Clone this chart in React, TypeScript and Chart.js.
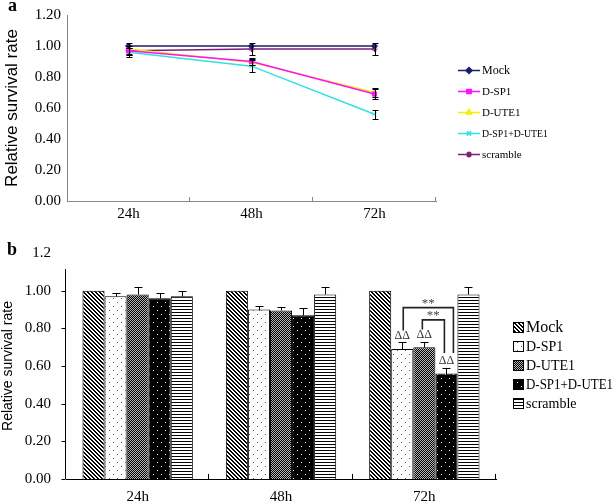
import React, { useEffect, useRef } from "react";
import { Chart, registerables } from "chart.js";
import { drawPoint } from "chart.js/helpers";

Chart.register(...registerables);

// ---------- data ----------
const timePoints = ["24h", "48h", "72h"];
const groupNames = ["Mock", "D-SP1", "D-UTE1", "D-SP1+D-UTE1", "scramble"];

const mockRate = [1.0, 1.0, 1.0];
const dsp1Rate = [0.97, 0.9, 0.69];
const dute1Rate = [0.98, 0.895, 0.7];
const comboRate = [0.96, 0.87, 0.56];
const scrambleRate = [0.97, 0.98, 0.98];

const mockErr = [0, 0, 0];
const dsp1Err = [0.02, 0.02, 0.035];
const dute1Err = [0.04, 0.02, 0.03];
const comboErr = [0.03, 0.04, 0.03];
const scrambleErr = [0.03, 0.04, 0.04];

const topTickLabels = ["0.00", "0.20", "0.40", "0.60", "0.80", "1.00", "1.20"];
const bottomTickLabels = ["0.00", "0.20", "0.40", "0.60", "0.80", "1.00", "1.2"];
const bottomAxisTop = 1.115;

// significance marks on panel b (time index, group index)
const deltaMarks = [
  { time: 2, group: 1, text: "ΔΔ" },
  { time: 2, group: 2, text: "ΔΔ" },
  { time: 2, group: 3, text: "ΔΔ" },
];
const starBrackets = [
  { time: 2, from: 1, to: 3, level: 0.91, text: "**" },
  { time: 2, from: 2, to: 3, level: 0.845, text: "**" },
];

// ---------- styles ----------
const rates = [mockRate, dsp1Rate, dute1Rate, comboRate, scrambleRate];
const errs = [mockErr, dsp1Err, dute1Err, comboErr, scrambleErr];
const lineColors = ["#1c1c6e", "#ff10ff", "#f4f000", "#33e0e0", "#7a207a"];
const pointStyles = ["rectRot", "rect", "triangle", "crossRot", "star"];
const patternKinds = ["diag", "lightdots", "checker", "darkdots", "hlines"];
const SERIF = "'Liberation Serif', 'DejaVu Serif', serif";
const SANS = "'Liberation Sans', Arial, sans-serif";

function makePattern(kind: string): CanvasPattern {
  const c = document.createElement("canvas");
  const size = kind === "hlines" ? 3 : kind === "diag" || kind === "checker" ? 4 : 8;
  c.width = size;
  c.height = size;
  const g = c.getContext("2d")!;
  g.fillStyle = kind === "darkdots" ? "#000" : "#fff";
  g.fillRect(0, 0, size, size);
  if (kind === "diag") {
    g.fillStyle = "#000";
    for (let y = 0; y < 4; y++)
      for (let x = 0; x < 4; x++) if ((x - y + 8) % 4 < 2) g.fillRect(x, y, 1, 1);
  } else if (kind === "lightdots") {
    g.fillStyle = "#555";
    g.fillRect(1, 1, 1, 1);
    g.fillRect(5, 5, 1, 1);
  } else if (kind === "checker") {
    g.fillStyle = "#b8b8b8";
    g.fillRect(0, 0, 4, 4);
    g.fillStyle = "#000";
    for (let y = 0; y < 4; y++)
      for (let x = 0; x < 4; x++) if ((x + y) % 2 === 0) g.fillRect(x, y, 1, 1);
  } else if (kind === "darkdots") {
    g.fillStyle = "#fff";
    g.fillRect(1, 1, 1, 1);
    g.fillRect(5, 5, 1, 1);
  } else if (kind === "hlines") {
    g.fillStyle = "#000";
    g.fillRect(0, 0, 3, 1);
  }
  return g.createPattern(c, "repeat")!;
}

function innerTicks(chart: any, color: string, len: number) {
  const xs = chart.scales.x;
  const ctx = chart.ctx;
  const n = chart.data.labels.length;
  const bottom = chart.chartArea.bottom;
  ctx.save();
  ctx.strokeStyle = color;
  ctx.lineWidth = 1;
  for (let i = 1; i <= n; i++) {
    const px = Math.round(xs.left + (i * (xs.right - xs.left)) / n) - 0.5;
    ctx.beginPath();
    ctx.moveTo(px, bottom);
    ctx.lineTo(px, bottom - len);
    ctx.stroke();
  }
  ctx.restore();
}

// ---------- panel a plugin ----------
const panelAPlugin = {
  id: "panelA",
  afterDatasetsDraw(chart: any) {
    const ctx = chart.ctx;
    const ys = chart.scales.y;
    ctx.save();
    ctx.strokeStyle = "#000";
    ctx.lineWidth = 1;
    chart.data.datasets.forEach((ds: any, i: number) => {
      const meta = chart.getDatasetMeta(i);
      ds.data.forEach((v: number, j: number) => {
        const e = ds.errors[j];
        if (!e) return;
        const x = Math.round(meta.data[j].x) + 0.5;
        const y1 = Math.round(ys.getPixelForValue(v + e)) + 0.5;
        const y2 = Math.round(ys.getPixelForValue(v - e)) + 0.5;
        ctx.beginPath();
        ctx.moveTo(x, y1);
        ctx.lineTo(x, y2);
        ctx.moveTo(x - 3, y1);
        ctx.lineTo(x + 3, y1);
        ctx.moveTo(x - 3, y2);
        ctx.lineTo(x + 3, y2);
        ctx.stroke();
      });
    });
    ctx.restore();
  },
  afterDraw(chart: any) {
    const ctx = chart.ctx;
    innerTicks(chart, "#888", 4);
    ctx.save();
    // panel letter
    ctx.fillStyle = "#000";
    ctx.font = `bold 18px ${SERIF}`;
    ctx.textBaseline = "alphabetic";
    ctx.textAlign = "left";
    ctx.fillText("a", 8, 11);
    // legend
    const x0 = 458;
    chart.data.datasets.forEach((ds: any, i: number) => {
      const y = 70 + i * 21;
      ctx.strokeStyle = ds.borderColor;
      ctx.lineWidth = 1.5;
      ctx.beginPath();
      ctx.moveTo(x0, y + 0.5);
      ctx.lineTo(x0 + 22, y + 0.5);
      ctx.stroke();
      ctx.fillStyle = ds.backgroundColor;
      drawPoint(ctx, { pointStyle: ds.pointStyle, radius: 3, rotation: 0, borderWidth: 1 }, x0 + 11, y + 0.5);
      ctx.fillStyle = "#000";
      ctx.font = `${i === 0 ? 12 : 11}px ${SERIF}`;
      ctx.textBaseline = "middle";
      ctx.fillText(ds.label, x0 + 24, y + 1, 66);
    });
    ctx.restore();
  },
};

// ---------- panel b plugin ----------
const panelBPlugin = {
  id: "panelB",
  afterDatasetsDraw(chart: any) {
    const ctx = chart.ctx;
    const ys = chart.scales.y;
    const capOf = (g: number, t: number) => {
      const ds = chart.data.datasets[g];
      return ys.getPixelForValue(ds.data[t] + ds.errors[t]);
    };
    ctx.save();
    ctx.strokeStyle = "#000";
    ctx.lineWidth = 1;
    chart.data.datasets.forEach((ds: any, i: number) => {
      const meta = chart.getDatasetMeta(i);
      ds.data.forEach((v: number, j: number) => {
        const e = ds.errors[j];
        if (!e) return;
        const x = Math.round(meta.data[j].x) + 0.5;
        const yTop = Math.round(ys.getPixelForValue(v)) + 0.5;
        const yCap = Math.round(ys.getPixelForValue(v + e)) + 0.5;
        ctx.beginPath();
        ctx.moveTo(x, yTop);
        ctx.lineTo(x, yCap);
        ctx.moveTo(x - 4, yCap);
        ctx.lineTo(x + 4, yCap);
        ctx.stroke();
      });
    });
    // delta marks
    ctx.fillStyle = "#333";
    ctx.font = `12px ${SERIF}`;
    ctx.textAlign = "center";
    ctx.textBaseline = "bottom";
    deltaMarks.forEach((m) => {
      const bar = chart.getDatasetMeta(m.group).data[m.time];
      ctx.fillText(m.text, bar.x, capOf(m.group, m.time) - 1);
    });
    // brackets
    ctx.strokeStyle = "#222";
    ctx.lineWidth = 1.6;
    starBrackets.forEach((b, k) => {
      const L = chart.getDatasetMeta(b.from).data[b.time];
      const R = chart.getDatasetMeta(b.to).data[b.time];
      const lx = L.x + (k === 0 ? 1 : -2);
      const rx = R.x + (k === 0 ? 7 : -2);
      const ty = ys.getPixelForValue(b.level);
      ctx.beginPath();
      ctx.moveTo(lx, capOf(b.from, b.time) - 12);
      ctx.lineTo(lx, ty);
      ctx.lineTo(rx, ty);
      ctx.lineTo(rx, capOf(b.to, b.time) - 15);
      ctx.stroke();
      ctx.fillStyle = "#444";
      ctx.font = `13px ${SERIF}`;
      ctx.fillText(b.text, (lx + rx) / 2, ty + 2);
    });
    ctx.restore();
  },
  afterDraw(chart: any) {
    const ctx = chart.ctx;
    const ys = chart.scales.y;
    innerTicks(chart, "#000", 5);
    ctx.save();
    // y axis line (starts below the top label) with outward ticks
    const ax = Math.round(chart.chartArea.left) - 0.5;
    ctx.strokeStyle = "#000";
    ctx.lineWidth = 1;
    ctx.beginPath();
    ctx.moveTo(ax, Math.round(ys.getPixelForValue(bottomAxisTop)));
    ctx.lineTo(ax, chart.chartArea.bottom);
    ys.ticks.forEach((t: any) => {
      if (t.value > bottomAxisTop) return;
      const py = Math.round(ys.getPixelForValue(t.value)) + 0.5;
      ctx.moveTo(ax - 4, py);
      ctx.lineTo(ax, py);
    });
    ctx.stroke();
    ctx.fillStyle = "#000";
    ctx.font = `bold 18px ${SERIF}`;
    ctx.textBaseline = "alphabetic";
    ctx.textAlign = "left";
    ctx.fillText("b", 7, 30);
    // legend
    chart.data.datasets.forEach((ds: any, i: number) => {
      const y = 102 + i * 19;
      ctx.fillStyle = ds.backgroundColor;
      ctx.fillRect(513, y - 5, 11, 11);
      ctx.strokeStyle = "#000";
      ctx.lineWidth = 1;
      ctx.strokeRect(513.5, y - 4.5, 10, 10);
      ctx.fillStyle = "#000";
      ctx.font = `${i === 0 ? 16 : 14}px ${SERIF}`;
      ctx.textBaseline = "middle";
      ctx.fillText(ds.label, 526, y + 1, 87);
    });
    ctx.restore();
  },
};

function PanelA() {
  const ref = useRef<HTMLCanvasElement>(null);
  useEffect(() => {
    const chart = new Chart(ref.current!, {
      type: "line",
      data: {
        labels: timePoints,
        datasets: groupNames.map((name, i) => ({
          label: name,
          data: rates[i],
          errors: errs[i],
          borderColor: lineColors[i],
          backgroundColor: lineColors[i],
          pointBorderColor: lineColors[i],
          pointBackgroundColor: lineColors[i],
          pointStyle: pointStyles[i],
          pointRadius: 3,
          pointBorderWidth: 1,
          borderWidth: 1.5,
          tension: 0,
        })) as any,
      },
      options: {
        animation: false,
        responsive: false,
        maintainAspectRatio: false,
        layout: { padding: { left: 0, top: 13, right: 178, bottom: 0 } },
        plugins: { legend: { display: false }, tooltip: { enabled: false } },
        scales: {
          x: {
            type: "category",
            offset: true,
            grid: { display: false, drawTicks: false },
            border: { color: "#888", width: 1 },
            ticks: { color: "#000", font: { family: SERIF, size: 15 }, padding: 4 },
            afterFit: (s: any) => {
              s.height = 24;
            },
          },
          y: {
            min: 0,
            max: 1.2,
            grid: { display: false, drawTicks: false },
            border: { color: "#888", width: 1 },
            ticks: {
              stepSize: 0.2,
              color: "#000",
              font: { family: SERIF, size: 15 },
              padding: 6,
              callback: (_v: any, idx: number) => topTickLabels[idx],
            },
            title: {
              display: true,
              text: "Relative survival rate",
              color: "#000",
              font: { family: SANS, size: 17 },
              padding: { top: 2, bottom: 0 },
            },
            afterFit: (s: any) => {
              s.width = 67;
            },
          },
        },
      } as any,
      plugins: [panelAPlugin],
    });
    return () => chart.destroy();
  }, []);
  return <canvas ref={ref} width={614} height={225} style={{ position: "absolute", left: 0, top: 0 }} />;
}

function PanelB() {
  const ref = useRef<HTMLCanvasElement>(null);
  useEffect(() => {
    const patterns = patternKinds.map(makePattern);
    const chart = new Chart(ref.current!, {
      type: "bar",
      data: {
        labels: timePoints,
        datasets: groupNames.map((name, i) => ({
          label: name,
          data: rates[i],
          errors: errs[i],
          backgroundColor: patterns[i],
          borderColor: "#000",
          borderWidth: 1,
          categoryPercentage: 0.77,
          barPercentage: 1.0,
        })) as any,
      },
      options: {
        animation: false,
        responsive: false,
        maintainAspectRatio: false,
        layout: { padding: { left: 0, top: 28, right: 118, bottom: 0 } },
        plugins: { legend: { display: false }, tooltip: { enabled: false } },
        scales: {
          x: {
            type: "category",
            offset: true,
            grid: { display: false, drawTicks: false },
            border: { color: "#000", width: 1 },
            ticks: { color: "#000", font: { family: SERIF, size: 15 }, padding: 9 },
            afterFit: (s: any) => {
              s.height = 25;
            },
          },
          y: {
            min: 0,
            max: 1.2,
            grid: { display: false, drawTicks: false },
            border: { display: false },
            ticks: {
              stepSize: 0.2,
              color: "#000",
              font: { family: SERIF, size: 15 },
              padding: 15,
              callback: (_v: any, idx: number) => bottomTickLabels[idx],
            },
            title: {
              display: true,
              text: "Relative survival rate",
              color: "#000",
              font: { family: SANS, size: 14 },
              padding: { top: 0, bottom: 0 },
            },
            afterFit: (s: any) => {
              s.width = 66;
            },
          },
        },
      } as any,
      plugins: [panelBPlugin],
    });
    return () => chart.destroy();
  }, []);
  return <canvas ref={ref} width={614} height={279} style={{ position: "absolute", left: 0, top: 225 }} />;
}

export default function App() {
  return (
    <div style={{ position: "fixed", left: 0, top: 0, width: 614, height: 504, background: "#fff", overflow: "hidden" }}>
      <PanelA />
      <PanelB />
    </div>
  );
}
